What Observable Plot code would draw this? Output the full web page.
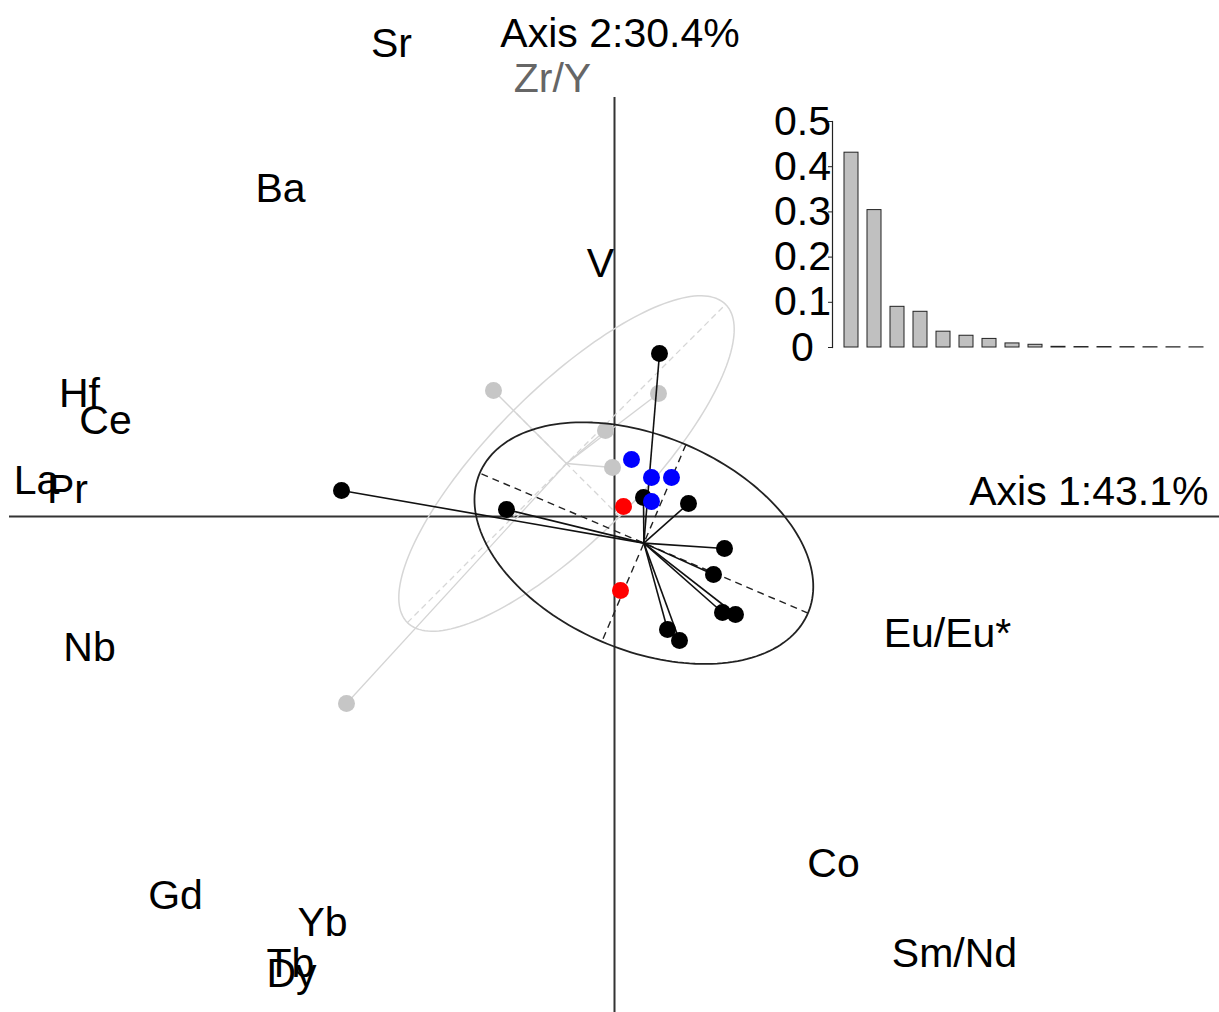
<!DOCTYPE html>
<html><head><meta charset="utf-8">
<script src="https://cdn.jsdelivr.net/npm/d3@7"></script>
<script src="https://cdn.jsdelivr.net/npm/@observablehq/plot@0.6"></script>
<style>
html,body{margin:0;padding:0;background:#fff;overflow:hidden}
#wrap{position:relative;width:1219px;height:1012px}
#main{position:absolute;left:0;top:0}
#inset{position:absolute;left:760px;top:80px}
svg{font-family:"Liberation Sans",Arial,Helvetica,sans-serif}
</style></head><body><div id="wrap"><div id="main"></div><div id="inset"></div></div>
<script>
// ---- row scores (Axis 1, Axis 2) ----
const blackX = [0.225, -1.365, -0.54, 0.145, 0.37, 0.55, 0.495, 0.54, 0.605, 0.265, 0.325];
const blackY = [0.815, 0.13, 0.035, 0.095, 0.065, -0.16, -0.29, -0.48, -0.49, -0.565, -0.62];
const blueX = [0.085, 0.185, 0.285, 0.185];
const blueY = [0.285, 0.195, 0.195, 0.075];
const redX = [0.045, 0.03];
const redY = [0.05, -0.37];
const greyX = [-0.605, 0.22, -0.045, -0.01, -1.34];
const greyY = [0.63, 0.615, 0.43, 0.245, -0.935];
// faded group: centre, radii, angle (deg)
const greyEllipse = {cx: -0.24, cy: 0.265, a: 1.125, b: 0.375, angle: 45};
// ---- variable labels ----
const varNames = ["Sr","Zr/Y","Ba","V","Hf","Ce","La","Pr","Nb","Eu/Eu*","Co","Sm/Nd","Gd","Yb","Tb","Dy"];
const varX = [-1.115,-0.31,-1.67,-0.07,-2.675,-2.545,-2.89,-2.735,-2.625,1.665,1.095,1.7,-2.195,-1.46,-1.62,-1.615];
const varY = [2.365,2.19,1.64,1.265,0.615,0.48,0.18,0.135,-0.655,-0.585,-1.735,-2.185,-1.895,-2.03,-2.235,-2.285];
// ---- eigenvalues (proportion) ----
const eigIndex = d3.range(1, 17);
const eigValues = [0.431,0.304,0.090,0.079,0.035,0.026,0.019,0.009,0.006,0.0015,0.001,0.001,0.0008,0.0006,0.0005,0.0004];
const axisTitles = ["Axis 1:43.1%", "Axis 2:30.4%"];

const xDom = [-3.025, 3.025], yDom = [-2.48, 2.58];

function ellipseFrom(xs, ys, k) {
  const n = xs.length, mx = d3.mean(xs), my = d3.mean(ys);
  let sxx = 0, syy = 0, sxy = 0;
  for (let i = 0; i < n; i++) {
    sxx += (xs[i]-mx)**2; syy += (ys[i]-my)**2; sxy += (xs[i]-mx)*(ys[i]-my);
  }
  sxx /= n; syy /= n; sxy /= n;
  const tr = sxx + syy, det = sxx*syy - sxy*sxy, disc = Math.sqrt(tr*tr/4 - det);
  const l1 = tr/2 + disc, l2 = tr/2 - disc;
  const ang = Math.atan2(l1 - sxx, sxy);
  return {cx: mx, cy: my, a: k*Math.sqrt(l1), b: k*Math.sqrt(l2), ang};
}
function outline(e) {
  return d3.range(0, 361, 2).map(d => {
    const t = d*Math.PI/180;
    return {x: e.cx + e.a*Math.cos(t)*Math.cos(e.ang) - e.b*Math.sin(t)*Math.sin(e.ang),
            y: e.cy + e.a*Math.cos(t)*Math.sin(e.ang) + e.b*Math.sin(t)*Math.cos(e.ang)};
  });
}
function ellAxes(e) {
  const ux = Math.cos(e.ang), uy = Math.sin(e.ang), vx = -uy, vy = ux;
  return [
    {x1: e.cx - e.a*ux, y1: e.cy - e.a*uy, x2: e.cx + e.a*ux, y2: e.cy + e.a*uy},
    {x1: e.cx - e.b*vx, y1: e.cy - e.b*vy, x2: e.cx + e.b*vx, y2: e.cy + e.b*vy}
  ];
}
const pts = (xs, ys) => xs.map((x, i) => ({x, y: ys[i]}));

const blackE = ellipseFrom(blackX, blackY, 1.5);
const greyE = {cx: greyEllipse.cx, cy: greyEllipse.cy, a: greyEllipse.a, b: greyEllipse.b, ang: greyEllipse.angle*Math.PI/180};
const blackPts = pts(blackX, blackY), greyPts = pts(greyX, greyY);
const labels = varNames.map((t, i) => ({t, x: varX[i], y: varY[i]}));

const main = Plot.plot({
  width: 1219, height: 1012,
  marginLeft: 9, marginRight: 0, marginTop: 0, marginBottom: 0,
  x: {domain: xDom, axis: null},
  y: {domain: yDom, axis: null},
  marks: [
    Plot.ruleY([0], {x1: xDom[0], x2: xDom[1], stroke: "#333", strokeWidth: 2}),
    Plot.ruleX([0], {y1: yDom[0], y2: 2.095, stroke: "#333", strokeWidth: 2}),
    // faded group
    Plot.line(outline(greyE), {x: "x", y: "y", stroke: "#d6d6d6", strokeWidth: 1.5}),
    Plot.link(ellAxes(greyE), {x1: "x1", y1: "y1", x2: "x2", y2: "y2", stroke: "#d6d6d6", strokeWidth: 1.3, strokeDasharray: "6,4"}),
    Plot.link(greyPts, {x1: "x", y1: "y", x2: () => greyE.cx, y2: () => greyE.cy, stroke: "#d4d4d4", strokeWidth: 1.3}),
    Plot.dot(greyPts, {x: "x", y: "y", r: 8.5, fill: "#c6c6c6"}),
    // black group
    Plot.line(outline(blackE), {x: "x", y: "y", stroke: "#222", strokeWidth: 1.8}),
    Plot.link(ellAxes(blackE), {x1: "x1", y1: "y1", x2: "x2", y2: "y2", stroke: "#222", strokeWidth: 1.4, strokeDasharray: "7,5"}),
    Plot.link(blackPts, {x1: "x", y1: "y", x2: () => blackE.cx, y2: () => blackE.cy, stroke: "#111", strokeWidth: 1.6}),
    Plot.dot(blackPts, {x: "x", y: "y", r: 8.5, fill: "#000"}),
    Plot.dot(pts(blueX, blueY), {x: "x", y: "y", r: 8.5, fill: "#0000ff"}),
    Plot.dot(pts(redX, redY), {x: "x", y: "y", r: 8.5, fill: "#ff0000"}),
    // variable labels
    Plot.text(labels, {x: "x", y: "y", text: "t", fontSize: 41, fill: d => d.t === "Zr/Y" ? "#666" : "#000", lineAnchor: "middle"}),
    // axis titles
    Plot.text([axisTitles[1]], {frameAnchor: "top", dx: 5.5, dy: 33, lineAnchor: "middle", fontSize: 41, fill: "#000"}),
    Plot.text([axisTitles[0]], {frameAnchor: "right", dx: -11, dy: -15, textAnchor: "end", lineAnchor: "middle", fontSize: 41, fill: "#000"})
  ]
});
document.getElementById("main").appendChild(main);

const eig = eigIndex.map((k, i) => ({k, v: eigValues[i]}));
const inset = Plot.plot({
  width: 459, height: 290,
  marginLeft: 72, marginRight: 4, marginTop: 41, marginBottom: 23,
  x: {type: "band", domain: eigIndex, paddingInner: 0.38, paddingOuter: 0.5, axis: null},
  y: {domain: [0, 0.5], axis: null},
  marks: [
    Plot.frame({anchor: "left", stroke: "#222", strokeWidth: 1.2}),
    Plot.axisY({ticks: [0, 0.1, 0.2, 0.3, 0.4, 0.5], tickSize: 4, tickPadding: 26, textAnchor: "middle",
      tickFormat: d => d === 0 ? "0" : d3.format(".1f")(d), fontSize: 41, fill: "#000", stroke: "#222", label: null}),
    Plot.barY(eig, {x: "k", y: "v", fill: "#c0c0c0", stroke: "#222", strokeWidth: 1})
  ]
});
document.getElementById("inset").appendChild(inset);
</script>
</body></html>
